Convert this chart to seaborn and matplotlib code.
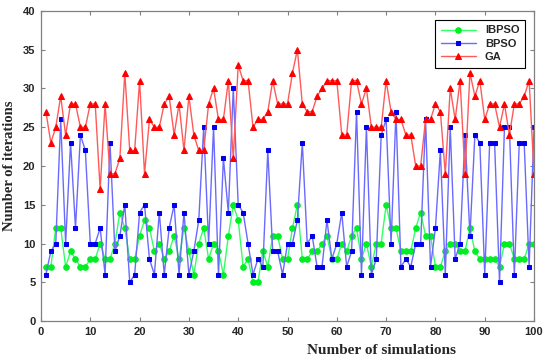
import matplotlib
matplotlib.use('Agg')
import matplotlib.pyplot as plt
import seaborn as sns
import numpy as np
import pandas as pd

# values, simulation 1..100
simulations = list(range(1, 101))

ibpso = [7, 7, 12, 12, 7, 9, 8, 7, 7, 8,
         8, 10, 8, 8, 10, 14, 12, 8, 8, 11,
         13, 12, 9, 10, 8, 9, 11, 8, 12, 9,
         6, 10, 12, 8, 10, 9, 6, 11, 15, 13,
         7, 8, 5, 5, 9, 7, 11, 11, 8, 8,
         12, 15, 8, 8, 9, 9, 10, 11, 8, 8,
         10, 9, 11, 12, 8, 10, 7, 10, 10, 15,
         12, 12, 9, 9, 9, 12, 14, 11, 11, 7,
         7, 9, 10, 10, 9, 9, 12, 9, 8, 8,
         8, 8, 7, 10, 10, 8, 8, 8, 10, 10]

bpso = [6, 9, 10, 26, 10, 23, 12, 24, 22, 10,
        10, 12, 6, 23, 9, 11, 15, 5, 6, 14,
        15, 8, 6, 14, 6, 12, 15, 6, 14, 6,
        9, 13, 25, 10, 25, 6, 21, 14, 30, 15,
        14, 10, 6, 8, 7, 22, 9, 9, 6, 10,
        10, 13, 23, 10, 11, 7, 7, 13, 8, 10,
        14, 7, 9, 27, 6, 25, 6, 8, 24, 26,
        10, 27, 7, 8, 7, 10, 10, 26, 7, 12,
        22, 6, 25, 8, 10, 24, 11, 24, 23, 6,
        23, 23, 5, 25, 25, 6, 23, 23, 7, 25]

ga = [27, 23, 25, 29, 24, 28, 28, 25, 25, 28,
      28, 17, 28, 19, 19, 21, 32, 22, 22, 31,
      19, 26, 25, 25, 28, 29, 24, 28, 22, 29,
      24, 22, 22, 28, 30, 26, 26, 31, 21, 33,
      31, 31, 25, 26, 26, 27, 31, 28, 28, 28,
      32, 35, 28, 27, 27, 29, 30, 31, 31, 31,
      24, 24, 31, 31, 28, 30, 25, 25, 25, 31,
      27, 26, 26, 24, 24, 20, 20, 26, 26, 28,
      27, 19, 30, 26, 31, 19, 32, 29, 31, 26,
      28, 28, 25, 28, 24, 28, 28, 29, 31, 19]

series_names = ['IBPSO', 'BPSO', 'GA']

df = pd.DataFrame({'sim': simulations, 'IBPSO': ibpso, 'BPSO': bpso, 'GA': ga})

sns.set_style('ticks')
plt.rcParams['font.family'] = ['Liberation Sans', 'DejaVu Sans']

fig = plt.figure(figsize=(5.5, 3.64), dpi=100)
ax = fig.add_axes([0.0745, 0.118, 0.8965, 0.852])

# line colour is paler than the marker, like the original export
styles = {
    'IBPSO': dict(color='#33ff66', marker='o', markerfacecolor='#00ee22', markeredgecolor='#00ee22', markersize=4),
    'BPSO': dict(color='#6a6aff', marker='s', markerfacecolor='#0000ee', markeredgecolor='#0000ee', markersize=3.3),
    'GA': dict(color='#ff5a5a', marker='^', markerfacecolor='#ff0000', markeredgecolor='#ff0000', markersize=4),
}

for name in series_names:
    sns.lineplot(data=df, x='sim', y=name, ax=ax, label=name, linewidth=1.0, **styles[name])

ax.set_xlim(0, 100)
ax.set_ylim(0, 40)
ax.set_xticks(np.arange(0, 101, 10))
ax.set_yticks(np.arange(0, 41, 5))
ax.tick_params(direction='in', length=3, width=0.8, color='#808080', top=True, right=True,
               labelsize=8, pad=4)
for lab in ax.get_xticklabels() + ax.get_yticklabels():
    lab.set_fontweight('bold')
for sp in ax.spines.values():
    sp.set_color('#808080')
    sp.set_linewidth(0.9)

ax.set_xlabel('Number of simulations', family='Liberation Serif', fontweight='bold', fontsize=11)
ax.set_ylabel('Number of iterations', family='Liberation Serif', fontweight='bold', fontsize=10.5)
ax.xaxis.set_label_coords(0.69, -0.075)
ax.yaxis.set_label_coords(-0.05, 0.5)

leg = ax.legend(loc='upper right', bbox_to_anchor=(0.982, 0.971), borderaxespad=0,
                fancybox=False, edgecolor='black', framealpha=1, handlelength=3.2,
                prop={'weight': 'bold', 'size': 8}, labelspacing=0.3, borderpad=0.5)
leg.get_frame().set_linewidth(0.8)

fig.savefig('out.png', dpi=100)
